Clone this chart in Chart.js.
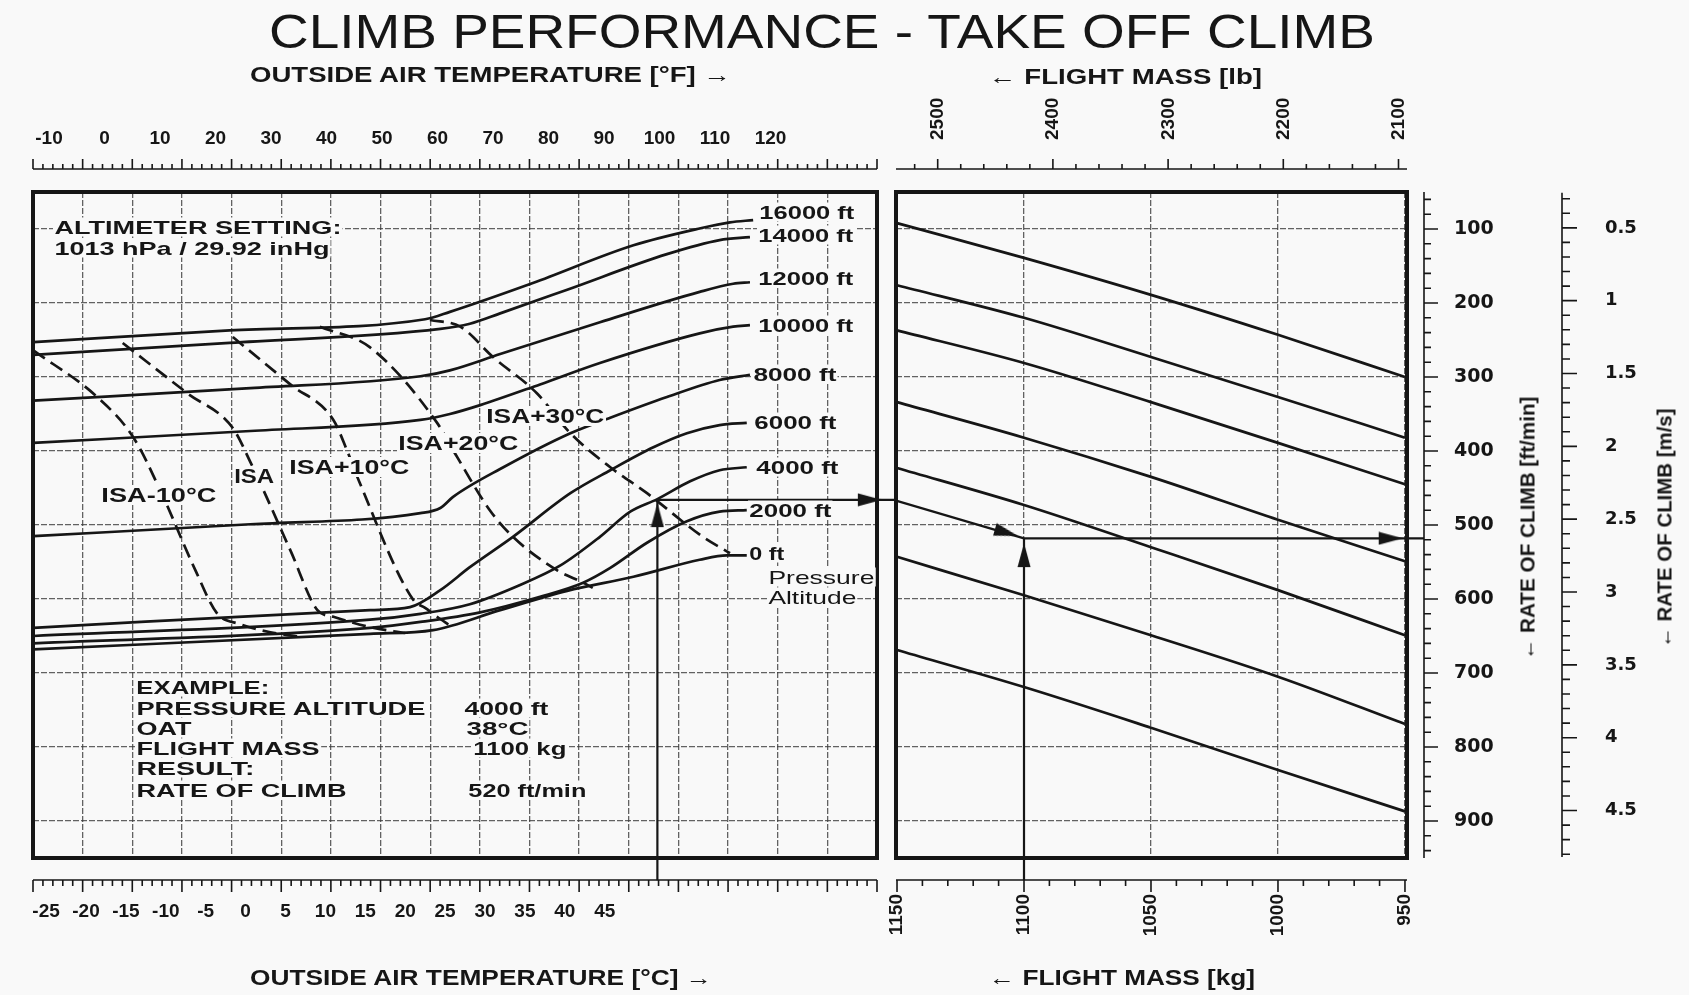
<!DOCTYPE html>
<html>
<head>
<meta charset="utf-8">
<title>Climb performance - take off climb</title>
<script src="https://cdn.jsdelivr.net/npm/chart.js@4.4.1/dist/chart.umd.min.js"></script>
<style>
  html, body { margin: 0; padding: 0; background: #f9f9f9; }
  #page { position: relative; width: 1689px; height: 995px; overflow: hidden; color: #161616; }
  canvas { position: absolute; left: 0; top: 0; }
  .lbl { position: absolute; white-space: nowrap; line-height: 1; }
  .bg { background: #f9f9f9; padding: 0 1px; }
</style>
</head>
<body>
<div id="page">
  <canvas id="left" width="1689" height="995"></canvas>
  <canvas id="right" width="1689" height="995"></canvas>
</div>
<script>
// ---- values ----
const tempCTicks = [-25, -20, -15, -10, -5, 0, 5, 10, 15, 20, 25, 30, 35, 40, 45];
const tempFTicks = [-10, 0, 10, 20, 30, 40, 50, 60, 70, 80, 90, 100, 110, 120];
const massKgTicks = [1150, 1100, 1050, 1000, 950];
const massLbTicks = [2500, 2400, 2300, 2200, 2100];
const climbFpmTicks = [100, 200, 300, 400, 500, 600, 700, 800, 900];
const climbMsTicks = [0.5, 1, 1.5, 2, 2.5, 3, 3.5, 4, 4.5];

// pressure altitude curves: [OAT °C, reference line in ft/min]
const alt16000 = [[-26.6, 253], [-2.0, 237], [22.5, 222], [25.6, 212], [36.0, 173], [48.6, 122], [57.0, 99], [60.7, 91], [63.6, 88]];
const alt14000 = [[-26.6, 270], [-2.0, 254], [24.4, 235], [28.1, 228], [31.9, 214], [40.3, 182], [52.8, 134], [59.4, 115], [63.2, 111]];
const alt12000 = [[-26.6, 332], [0.6, 315], [21.9, 299], [25.6, 291], [31.9, 269], [44.4, 226], [56.9, 185], [61.1, 174], [63.2, 172]];
const alt10000 = [[-26.6, 389], [0.6, 373], [21.9, 358], [25.6, 350], [29.4, 338], [36.9, 310], [44.4, 281], [56.9, 241], [61.1, 232], [63.2, 230]];
const alt8000 = [[-26.6, 515], [0.6, 499], [21.9, 484], [24.4, 477], [26.0, 462], [32.3, 422], [40.7, 376], [45.7, 355], [52.8, 327], [59.4, 304], [63.2, 297]];
const alt6000 = [[-26.6, 639], [15.6, 615], [20.6, 611], [24.4, 588], [28.1, 557], [33.5, 516], [40.7, 457], [45.7, 426], [51.1, 395], [55.3, 376], [59.4, 365], [62.8, 362]];
const alt4000 = [[-26.6, 650], [15.6, 628], [21.9, 620], [28.1, 607], [34.4, 581], [39.4, 555], [44.4, 516], [48.2, 482], [51.6, 465], [55.7, 441], [59.4, 426], [62.8, 422]];
const alt2000 = [[-26.6, 660], [15.6, 639], [21.9, 631], [29.4, 618], [36.9, 597], [42.3, 578], [45.7, 558], [50.3, 524], [55.3, 495], [59.4, 482], [62.8, 480]];
const alt0 = [[-26.6, 668], [15.6, 647], [23.5, 642], [31.9, 615], [40.3, 589], [48.6, 570], [56.9, 547], [60.3, 541], [62.8, 541]];

// temperature deviation lines (dashed)
const isaMinus10 = [[-26.6, 264], [-18.6, 327], [-14.1, 381], [-10.7, 453], [-6.3, 561], [-3.6, 619], [-0.7, 634], [3.1, 645], [6.8, 651]];
const isaZero = [[-15.4, 254], [-7.3, 322], [-1.6, 369], [0.6, 415], [5.6, 534], [9.0, 615], [11.0, 624], [15.6, 638], [20.0, 646]];
const isaPlus10 = [[-1.6, 246], [5.6, 310], [11.0, 358], [12.7, 399], [14.3, 443], [21.0, 601], [22.5, 612], [24.0, 624], [25.6, 636]];
const isaPlus20 = [[9.3, 232], [15.6, 260], [24.0, 362], [26.5, 408], [30.6, 480], [33.5, 516], [39.0, 561], [42.3, 578], [43.5, 585]];
const isaPlus30 = [[23.1, 223], [26.9, 232], [31.0, 273], [36.5, 322], [40.7, 376], [45.7, 422], [50.3, 457], [57.3, 516], [60.7, 538]];

// flight mass guide lines: rate of climb (ft/min) at each mass in guideMassKg
const guideMassKg = [1150, 1100, 1050, 1000, 950];
const guide1 = [92, 139, 189, 243, 300];
const guide2 = [176, 220, 273, 327, 382];
const guide3 = [237, 281, 334, 389, 445];
const guide4 = [334, 382, 435, 493, 549];
const guide5 = [423, 473, 530, 588, 649];
const guide6 = [543, 595, 649, 705, 769];
const guide7 = [669, 719, 774, 831, 887];

// worked example: 4000 ft, 38 °C, 1100 kg -> 520 ft/min
const exampleOatLine = [[51.6, 980], [51.6, 465]];
const exampleAcross = [[51.6, 466], [81.5, 466]];
const exampleArrowsLeft = [[51.6, 488], [78.1, 466]];
const exampleArrowsLeftTurn = [0, 90];
const exampleToMass = [[1150.4, 467], [1100, 518]];
const exampleMassLine = [[1100, 980], [1100, 518]];
const exampleResult = [[1100, 518], [942.5, 518]];
const exampleArrowsRight = [[1107.3, 510], [1100, 542], [956, 518]];
const exampleArrowsRightTurn = [106, 0, 90];

// axis ranges matching the two frames
const tempCRange = [-26.64, 79.12];
const tempFRange = [-12.88, 139.19];
const massKgRange = [949.2, 1150.4];
const climbRange = [50, 950];
const LB_PER_KG = 2.20462;
const FPM_PER_MS = 196.85;

// ---- drawing ----
const ink = '#161616';
const gridInk = 'rgba(60,60,60,0.8)';
const sans = '"Liberation Sans", Arial, sans-serif';
const wide = '"DejaVu Sans", sans-serif';
const page = document.getElementById('page');

const pts = arr => arr.map(([x, y]) => ({x, y}));
const guidePts = vals => guideMassKg.map((m, i) => ({x: m, y: vals[i]}));

function line(data, extra) {
  return Object.assign({
    data, xAxisID: 'x', yAxisID: 'y', showLine: true, pointRadius: 0,
    borderColor: ink, borderWidth: 2.7, cubicInterpolationMode: 'monotone', clip: false, fill: false
  }, extra || {});
}
const straight = {cubicInterpolationMode: 'default', tension: 0, borderWidth: 2.2};
const dashed = {borderDash: [14, 7]};

function arrowHead() {
  const c = document.createElement('canvas');
  c.width = 14; c.height = 26;
  const g = c.getContext('2d');
  g.fillStyle = ink;
  g.beginPath();
  g.moveTo(7, 0); g.lineTo(13.5, 24); g.lineTo(0.5, 24);
  g.closePath(); g.fill();
  return c;
}
const arrowImg = arrowHead();

function arrows(data, turns) {
  return {
    data, xAxisID: 'x', yAxisID: 'y', showLine: false, pointStyle: arrowImg,
    pointRotation: turns, pointRadius: 10, clip: false
  };
}

function makeFrame(rulers) {
  return {
    id: 'frame',
    afterDraw(chart) {
      const ctx = chart.ctx, a = chart.chartArea;
      ctx.save();
      ctx.strokeStyle = ink;
      ctx.setLineDash([]);
      ctx.lineWidth = 1.6;
      rulers.forEach(r => {
        const s = chart.scales[r.scale];
        const p0 = s.getPixelForValue(r.lineFrom !== undefined ? r.lineFrom : s.min);
        const p1 = s.getPixelForValue(r.lineTo !== undefined ? r.lineTo : s.max);
        ctx.beginPath();
        if (r.vertical) { ctx.moveTo(r.at, p0); ctx.lineTo(r.at, p1); }
        else { ctx.moveTo(p0, r.at); ctx.lineTo(p1, r.at); }
        const n = Math.round((r.to - r.from) / r.minor);
        for (let i = 0; i <= n; i++) {
          const v = r.from + i * r.minor;
          const q = v / r.major;
          const len = Math.abs(q - Math.round(q)) < 1e-6 ? r.majorLen : r.minorLen;
          const p = s.getPixelForValue(v);
          if (r.vertical) { ctx.moveTo(r.at, p); ctx.lineTo(r.at + len, p); }
          else { ctx.moveTo(p, r.at); ctx.lineTo(p, r.at + len); }
        }
        ctx.stroke();
      });
      ctx.lineWidth = 4;
      ctx.strokeRect(a.left, a.top, a.right - a.left, a.bottom - a.top);
      ctx.restore();
    }
  };
}

// fixed axis box sizes so that the frames land where the reference has them
const noPad = s => { s.paddingLeft = 0; s.paddingRight = 0; s.paddingTop = 0; s.paddingBottom = 0; };
const boxH = h => s => { s.height = h; noPad(s); };
const boxW = w => s => { s.width = w; noPad(s); };
const setTicks = list => s => { s.ticks = list.map(value => ({value})); };
const gridLines = {color: gridInk, lineWidth: 1.3, drawTicks: false};
const gridDash = {display: false, dash: [6, 2]};
const tickFont = {family: sans, size: 19, weight: 'bold'};
const common = {
  responsive: false, animation: false, events: [],
  plugins: {legend: {display: false}, tooltip: {enabled: false}}
};

// left frame: temperature / pressure altitude
const grid17 = Array.from({length: 16}, (_, i) => i + 1);
new Chart(document.getElementById('left'), {
  type: 'scatter',
  data: {
    datasets: [
      line(pts(alt16000)), line(pts(alt14000)), line(pts(alt12000)), line(pts(alt10000)),
      line(pts(alt8000)), line(pts(alt6000)), line(pts(alt4000)), line(pts(alt2000)), line(pts(alt0)),
      line(pts(isaMinus10), dashed), line(pts(isaZero), dashed), line(pts(isaPlus10), dashed),
      line(pts(isaPlus20), dashed), line(pts(isaPlus30), dashed),
      line(pts(exampleOatLine), straight),
      line(pts(exampleAcross), straight),
      arrows(pts(exampleArrowsLeft), exampleArrowsLeftTurn)
    ]
  },
  options: Object.assign({}, common, {
    layout: {padding: {left: 33, right: 1689 - 877, top: 0, bottom: 0}},
    scales: {
      x: {
        type: 'linear', position: 'bottom', min: tempCRange[0], max: tempCRange[1],
        afterBuildTicks: setTicks(tempCTicks), afterFit: boxH(995 - 858),
        grid: {display: false, drawTicks: false}, border: {display: false},
        ticks: {padding: 42, autoSkip: false, minRotation: 0, maxRotation: 0, color: ink,
                font: tickFont, callback: v => String(v)}
      },
      xf: {
        type: 'linear', axis: 'x', position: 'top', min: tempFRange[0], max: tempFRange[1],
        afterBuildTicks: setTicks(tempFTicks), afterFit: boxH(192),
        grid: {display: false, drawTicks: false}, border: {display: false},
        ticks: {padding: 42, autoSkip: false, minRotation: 0, maxRotation: 0, color: ink,
                font: tickFont, callback: v => String(v)}
      },
      gx: {
        type: 'linear', axis: 'x', position: 'bottom', min: 0, max: 17,
        afterBuildTicks: setTicks(grid17), afterFit: boxH(0),
        grid: gridLines, border: gridDash, ticks: {display: false}
      },
      y: {
        type: 'linear', position: 'left', min: climbRange[0], max: climbRange[1], reverse: true,
        afterBuildTicks: setTicks(climbFpmTicks), afterFit: boxW(0),
        grid: gridLines, border: gridDash, ticks: {display: false}
      }
    }
  }),
  plugins: [makeFrame([
    {scale: 'gx', at: 169, from: 0, to: 17, minor: 0.2, major: 1, minorLen: -5, majorLen: -10},
    {scale: 'gx', at: 880, from: 0, to: 17, minor: 0.2, major: 1, minorLen: 6, majorLen: 12}
  ])]
});

// right frame: flight mass / rate of climb
new Chart(document.getElementById('right'), {
  type: 'scatter',
  data: {
    datasets: [
      line(guidePts(guide1)), line(guidePts(guide2)), line(guidePts(guide3)), line(guidePts(guide4)),
      line(guidePts(guide5)), line(guidePts(guide6)), line(guidePts(guide7)),
      line(pts(exampleToMass), straight),
      line(pts(exampleMassLine), straight),
      line(pts(exampleResult), straight),
      arrows(pts(exampleArrowsRight), exampleArrowsRightTurn)
    ]
  },
  options: Object.assign({}, common, {
    layout: {padding: {left: 896, right: 0, top: 0, bottom: 0}},
    scales: {
      x: {
        type: 'linear', position: 'bottom', min: massKgRange[0], max: massKgRange[1], reverse: true,
        afterBuildTicks: setTicks(massKgTicks), afterFit: boxH(995 - 858),
        grid: gridLines, border: gridDash,
        ticks: {padding: 36, autoSkip: false, minRotation: 90, maxRotation: 90, color: ink,
                font: tickFont, callback: v => String(v)}
      },
      xl: {
        type: 'linear', axis: 'x', position: 'top',
        min: massKgRange[0] * LB_PER_KG, max: massKgRange[1] * LB_PER_KG, reverse: true,
        afterBuildTicks: setTicks(massLbTicks), afterFit: boxH(192),
        grid: {display: false, drawTicks: false}, border: {display: false},
        ticks: {padding: 52, labelOffset: 23, autoSkip: false, minRotation: 90, maxRotation: 90, color: ink,
                font: tickFont, callback: v => String(v)}
      },
      y: {
        type: 'linear', position: 'right', min: climbRange[0], max: climbRange[1], reverse: true,
        afterBuildTicks: setTicks(climbFpmTicks), afterFit: boxW(1562 - 1407),
        grid: gridLines, border: gridDash,
        ticks: {padding: 47, autoSkip: false, color: ink,
                font: {family: wide, size: 19, weight: 'bold'}, callback: v => String(v)}
      },
      y2: {
        type: 'linear', axis: 'y', position: 'right',
        min: climbRange[0] / FPM_PER_MS, max: climbRange[1] / FPM_PER_MS, reverse: true,
        afterBuildTicks: setTicks(climbMsTicks), afterFit: boxW(1689 - 1562),
        grid: {display: false, drawTicks: false}, border: {display: false},
        ticks: {padding: 43, autoSkip: false, color: ink,
                font: {family: wide, size: 18, weight: 'bold'}, callback: v => String(v)}
      }
    }
  }),
  plugins: [makeFrame([
    {scale: 'xl', at: 169, from: 2100, to: 2520, minor: 20, major: 100, minorLen: -5, majorLen: -10,
     lineFrom: massKgRange[1] * LB_PER_KG, lineTo: massKgRange[0] * LB_PER_KG},
    {scale: 'x', at: 880, from: 950, to: 1150, minor: 10, major: 50, minorLen: 6, majorLen: 12},
    {scale: 'y', vertical: true, at: 1424, from: 60, to: 940, minor: 20, major: 100, minorLen: 7, majorLen: 14},
    {scale: 'y2', vertical: true, at: 1562, from: 0.3, to: 4.8, minor: 0.1, major: 0.5, minorLen: 8, majorLen: 15,
     lineFrom: 0.26, lineTo: 4.82}
  ])]
});

// ---- text ----
const measure = document.createElement('canvas').getContext('2d');
function text(str, x, y, o) {
  const font = `${o.weight || 'bold'} ${o.size || 19}px ${o.family || sans}`;
  measure.font = font;
  const k = o.width ? o.width / measure.measureText(str).width : 1;
  const el = document.createElement('div');
  el.className = 'lbl' + (o.bg ? ' bg' : '');
  el.textContent = str;
  el.style.font = font;
  el.style.lineHeight = '1';
  el.style.left = x + 'px';
  el.style.top = y + 'px';
  if (o.rotate) {
    el.style.transform = `translate(-50%,-50%) rotate(-90deg) scaleX(${k})`;
  } else if (o.center) {
    el.style.transform = `translate(-50%,-50%) scaleX(${k})`;
  } else {
    el.style.transformOrigin = 'left center';
    el.style.transform = `translateY(-50%) scaleX(${k})`;
  }
  page.appendChild(el);
}

text('CLIMB PERFORMANCE - TAKE OFF CLIMB', 822, 31, {size: 49, width: 1107, weight: 'normal', center: true});
text('OUTSIDE AIR TEMPERATURE [°F] →', 250, 75, {size: 22, width: 482});
text('← FLIGHT MASS [lb]', 989, 77, {size: 22, width: 273});
text('OUTSIDE AIR TEMPERATURE [°C] →', 250, 978, {size: 22, width: 463});
text('← FLIGHT MASS [kg]', 989, 978, {size: 22, width: 266});
text('← RATE OF CLIMB [ft/min]', 1527, 528, {size: 21, width: 263, rotate: true});
text('← RATE OF CLIMB [m/s]', 1664, 528, {size: 21, width: 239, rotate: true});

text('ALTIMETER SETTING:', 53, 227, {size: 19, width: 287, bg: true});
text('1013 hPa / 29.92 inHg', 53, 248, {size: 19, width: 275, bg: true});

text('ISA-10°C', 100, 495, {size: 20, width: 115, bg: true});
text('ISA', 233, 476, {size: 20, width: 40, bg: true});
text('ISA+10°C', 288, 467, {size: 20, width: 120, bg: true});
text('ISA+20°C', 397, 443, {size: 20, width: 120, bg: true});
text('ISA+30°C', 485, 416, {size: 20, width: 118, bg: true});

const altLabels = [
  ['16000 ft', 758, 212, 95], ['14000 ft', 757, 235, 95], ['12000 ft', 757, 278, 95],
  ['10000 ft', 757, 325, 95], ['8000 ft', 752, 374, 83], ['6000 ft', 753, 422, 82],
  ['4000 ft', 755, 467, 82], ['2000 ft', 748, 510, 82], ['0 ft', 748, 553, 35]
];
altLabels.forEach(([s, x, y, w]) => text(s, x, y, {size: 19, width: w, bg: true}));
text('Pressure', 767, 577, {size: 19, width: 106, weight: 'normal', bg: true});
text('Altitude', 767, 597, {size: 19, width: 88, weight: 'normal', bg: true});

const exampleLines = [
  ['EXAMPLE:', 135, 687, 133], ['PRESSURE ALTITUDE', 135, 708, 290], ['OAT', 135, 728, 55],
  ['FLIGHT MASS', 135, 748, 183], ['RESULT:', 135, 768, 118], ['RATE OF CLIMB', 135, 790, 210],
  ['4000 ft', 463, 708, 84], ['38°C', 465, 728, 62], ['1100 kg', 472, 748, 93], ['520 ft/min', 467, 790, 118]
];
exampleLines.forEach(([s, x, y, w]) => text(s, x, y, {size: 19, width: w, bg: true}));
</script>
</body>
</html>
